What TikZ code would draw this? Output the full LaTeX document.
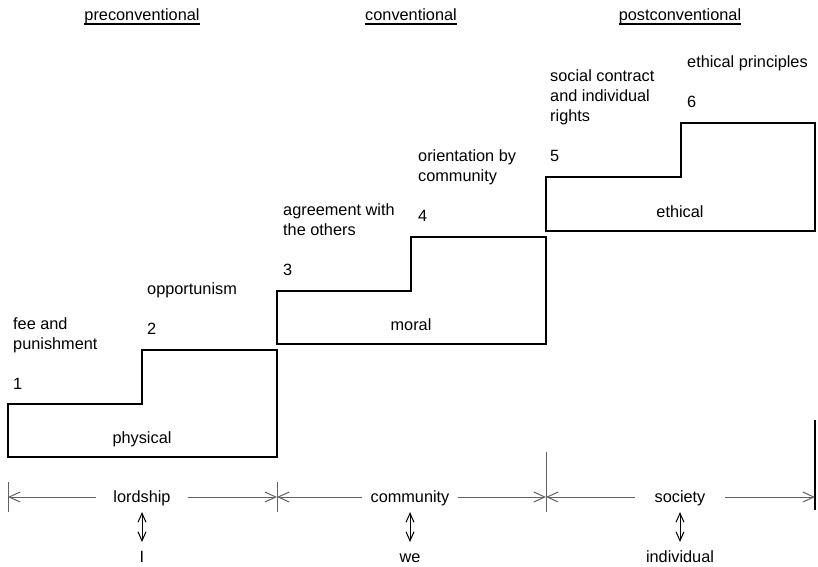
\documentclass[tikz,border=0pt]{standalone}
\usepackage{fontspec}
\setmainfont{Liberation Sans}
\usetikzlibrary{arrows.meta}
\begin{document}
\begin{tikzpicture}[x=1pt,y=-1pt,
  every node/.style={font=\fontsize{16.3}{20}\selectfont, inner sep=0pt},
  lbl/.style={text height=11.7pt, text depth=0pt},
  num/.style={lbl, anchor=west},
  desc/.style={align=left, anchor=south west, text depth=0pt},
  stair/.style={line width=2pt, line join=miter},
  dimline/.style={draw=black!62, line width=1pt, -{Straight Barb[length=11pt,width=10pt]}},
  ticks/.style={draw=black!62, line width=1pt},
  dbl/.style={line width=1pt, {Straight Barb[length=9pt,width=8pt]}-{Straight Barb[length=9pt,width=8pt]}},
  uline/.style={line width=1.2pt}
]
\useasboundingbox (0,0) rectangle (818,566);

% headers
\node[lbl] (h1) at (142,15) {preconventional};
\node[lbl] (h2) at (411,15) {conventional};
\node[lbl] (h3) at (680,15) {postconventional};
\foreach \h in {h1,h2,h3}
  \draw[uline] ([yshift=-3pt]\h.south west) -- ([yshift=-3pt]\h.south east);

% stairs
\draw[stair] (8,457) -- (8,404) -- (142,404) -- (142,350) -- (277,350) -- (277,457) -- cycle;
\draw[stair] (277,344) -- (277,291) -- (411,291) -- (411,237) -- (546,237) -- (546,344) -- cycle;
\draw[stair] (546,231) -- (546,177) -- (681,177) -- (681,123) -- (815,123) -- (815,231) -- cycle;

\node[lbl] (s1) at (142,438) {physical};
\node[lbl] (s2) at (411,325) {moral};
\node[lbl] (s3) at (680,212) {ethical};

% stage numbers and descriptions
\node[num] (n1) at (13,384) {1};
\node[desc] (d1) at (13,349.85) {fee and\\punishment};
\node[num] (n2) at (147,329) {2};
\node[desc] (d2) at (147,294.85) {opportunism};
\node[num] (n3) at (283,270) {3};
\node[desc] (d3) at (283,235.85) {agreement with\\the others};
\node[num] (n4) at (418,216) {4};
\node[desc] (d4) at (418,181.85) {orientation by\\community};
\node[num] (n5) at (550,156) {5};
\node[desc] (d5) at (550,121.85) {social contract\\and individual\\rights};
\node[num] (n6) at (687,102) {6};
\node[desc] (d6) at (687,67.85) {ethical principles};

% dimension lines
\coordinate (t1) at (8,497);
\coordinate (t2) at (277,497);
\coordinate (t3) at (546,497);
\coordinate (t4) at (815,497);
\draw[ticks] (8,482) -- (8,512);
\draw[ticks] (277,482) -- (277,512);
\draw[ticks] (546,452) -- (546,512);
\draw[line width=1.3pt] (815,420) -- (815,510);

\node[lbl, inner xsep=17pt] (b1) at (142,497) {lordship};
\node[lbl, inner xsep=8pt] (b2) at (410,497) {community};
\node[lbl, inner xsep=19pt] (b3) at (680,497) {society};
\draw[dimline] (b1.west) -- (t1);
\draw[dimline] (b1.east) -- (t2);
\draw[dimline] (b2.west) -- (t2);
\draw[dimline] (b2.east) -- (t3);
\draw[dimline] (b3.west) -- (t3);
\draw[dimline] (b3.east) -- (t4);

\node[lbl] (p1) at (142,557) {I};
\node[lbl] (p2) at (410,557) {we};
\node[lbl] (p3) at (680,557) {individual};
\draw[dbl, shorten <=9pt, shorten >=9pt] (b1.south) -- (p1.north);
\draw[dbl, shorten <=9pt, shorten >=9pt] (b2.south) -- (p2.north);
\draw[dbl, shorten <=9pt, shorten >=9pt] (b3.south) -- (p3.north);
\end{tikzpicture}
\end{document}
